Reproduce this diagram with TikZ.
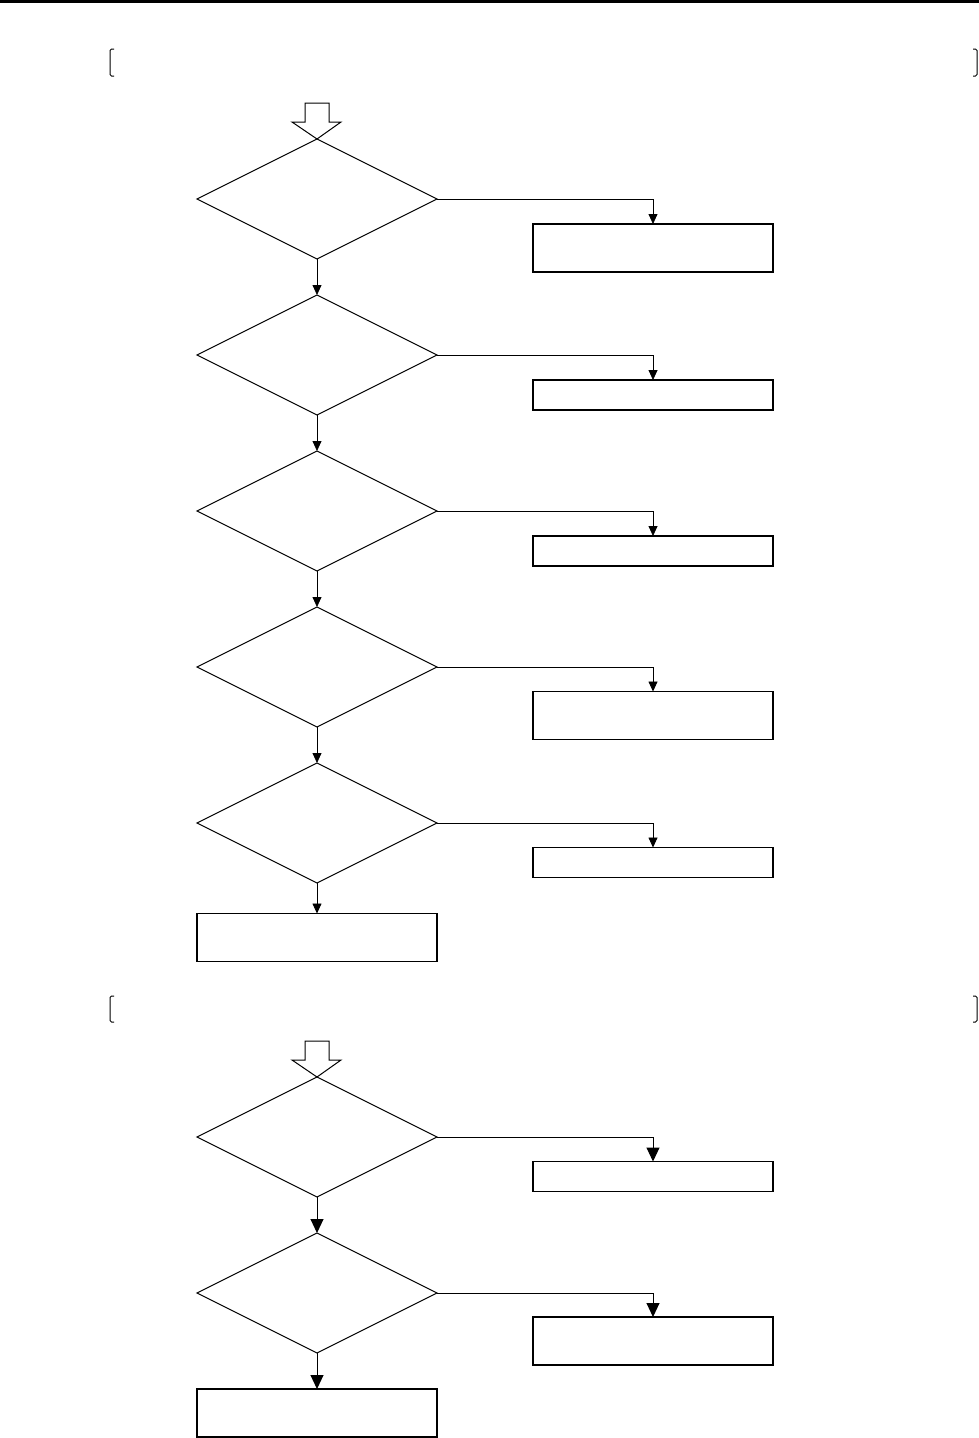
\documentclass[tikz,border=0pt]{standalone}
\usetikzlibrary{shapes.geometric, arrows.meta}
\begin{document}
\begin{tikzpicture}[x=1pt, y=-1pt,
    test/.style={diamond, draw, line width=1pt, aspect=2, minimum width=240pt, minimum height=120pt, inner sep=0pt, outer sep=0pt},
    act/.style={rectangle, draw, line width=1.3pt, minimum width=240pt, inner sep=0pt, outer sep=0pt},
    small/.style={-{Triangle[width=9pt, length=10pt]}, line width=0.8pt},
    big/.style={-{Triangle[width=13pt, length=14pt]}, line width=1pt}]
    \useasboundingbox (0,0) rectangle (979,1438);
    \fill (0,0) rectangle (979,3);
    % first part
    \draw[line width=1pt, rounded corners=1.5pt] (114,49) -- (110,49) -- (110,76) -- (114,76);
    \draw[line width=1pt, rounded corners=1.5pt] (973,49) -- (977,49) -- (977,76) -- (973,76);
    \draw[line width=1pt] (305,103) -- (329,103) -- (329,122) -- (341,122) -- (317,139) -- (292,122) -- (305,122) -- cycle;
    \node[test] (d1) at (317, 199) {};
    \node[test] (d2) at (317, 355) {};
    \node[test] (d3) at (317, 511) {};
    \node[test] (d4) at (317, 667) {};
    \node[test] (d5) at (317, 823) {};
    \node[act, minimum height=48pt] (b1) at (653, 248) {};
    \node[act, minimum height=30pt] (b2) at (653, 395) {};
    \node[act, minimum height=30pt] (b3) at (653, 551) {};
    \node[act, minimum height=48pt] (b4) at (653, 715.5) {};
    \node[act, minimum height=30pt] (b5) at (653, 862.5) {};
    \node[act, minimum height=48pt] (bend) at (317, 937.5) {};
    \draw[small] (d1.east) -| (b1.north);
    \draw[small] (d2.east) -| (b2.north);
    \draw[small] (d3.east) -| (b3.north);
    \draw[small] (d4.east) -| (b4.north);
    \draw[small] (d5.east) -| (b5.north);
    \draw[small] (d1.south) -- (d2.north);
    \draw[small] (d2.south) -- (d3.north);
    \draw[small] (d3.south) -- (d4.north);
    \draw[small] (d4.south) -- (d5.north);
    \draw[small] (d5.south) -- (bend.north);
    % second part
    \draw[line width=1pt, rounded corners=1.5pt] (114,996) -- (110,996) -- (110,1022) -- (114,1022);
    \draw[line width=1pt, rounded corners=1.5pt] (973,996) -- (977,996) -- (977,1022) -- (973,1022);
    \draw[line width=1pt] (305,1041) -- (329,1041) -- (329,1060) -- (341,1060) -- (317,1077) -- (292,1060) -- (305,1060) -- cycle;
    \node[test] (e1) at (317, 1137) {};
    \node[test] (e2) at (317, 1293) {};
    \node[act, minimum height=30pt] (c1) at (653, 1176.5) {};
    \node[act, minimum height=48pt] (c2) at (653, 1341) {};
    \node[act, minimum height=48pt] (cend) at (317, 1413) {};
    \draw[big] (e1.east) -| (c1.north);
    \draw[big] (e2.east) -| (c2.north);
    \draw[big] (e1.south) -- (e2.north);
    \draw[big] (e2.south) -- (cend.north);
\end{tikzpicture}
\end{document}
